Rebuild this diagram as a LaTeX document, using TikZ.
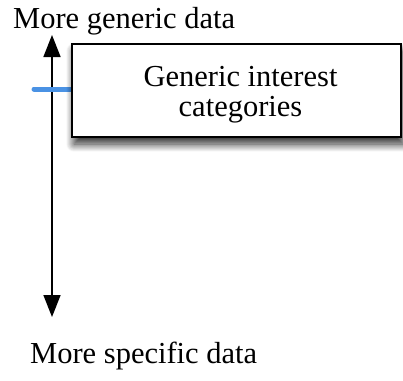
\documentclass[tikz,border=0pt]{standalone}
\usepackage{fontspec}
\setmainfont{Liberation Serif}
\usetikzlibrary{arrows.meta,shadows.blur}
\definecolor{markblue}{RGB}{74,146,228}
\tikzset{
  big text/.style={font=\rmfamily\fontsize{30.5}{30}\selectfont, inner sep=0pt},
  catbox/.style={draw=black, line width=2pt, fill=white, minimum width=329pt, minimum height=93pt,
    blur shadow={shadow xshift=2pt, shadow yshift=-7pt, shadow blur radius=8pt, shadow blur steps=16, shadow opacity=85}},
  axis/.style={line width=1.6pt, {Triangle[length=22pt,width=17pt]}-{Triangle[length=22pt,width=17pt]}},
  marker/.style={draw=markblue, line width=5pt, line cap=round}
}
\begin{document}
\begin{tikzpicture}[x=1pt,y=-1pt]
  \useasboundingbox (0,0) rectangle (403,380);
  % end labels of the scale
  \node[big text, anchor=base west] (gen) at (13,28) {More generic data};
  \node[big text, anchor=base west] (spec) at (30,363) {More specific data};
  % vertical scale
  \coordinate (ax top) at (52,35);
  \coordinate (ax bot) at (52,317);
  \draw[axis] (ax top) -- (ax bot);
  % marker showing where the category sits on the scale
  \coordinate (mk) at (34,89);
  \coordinate (mk end) at (74,89);
  \draw[marker] (mk) -- (mk end);
  % category box and its two-line label
  \node[catbox] (cat) at (236.5,90.5) {};
  \node[big text, anchor=base] (cat line1) at (240.5,86.5) {Generic interest};
  \node[big text, anchor=base] (cat line2) at (240.5,116.5) {categories};
\end{tikzpicture}
\end{document}
